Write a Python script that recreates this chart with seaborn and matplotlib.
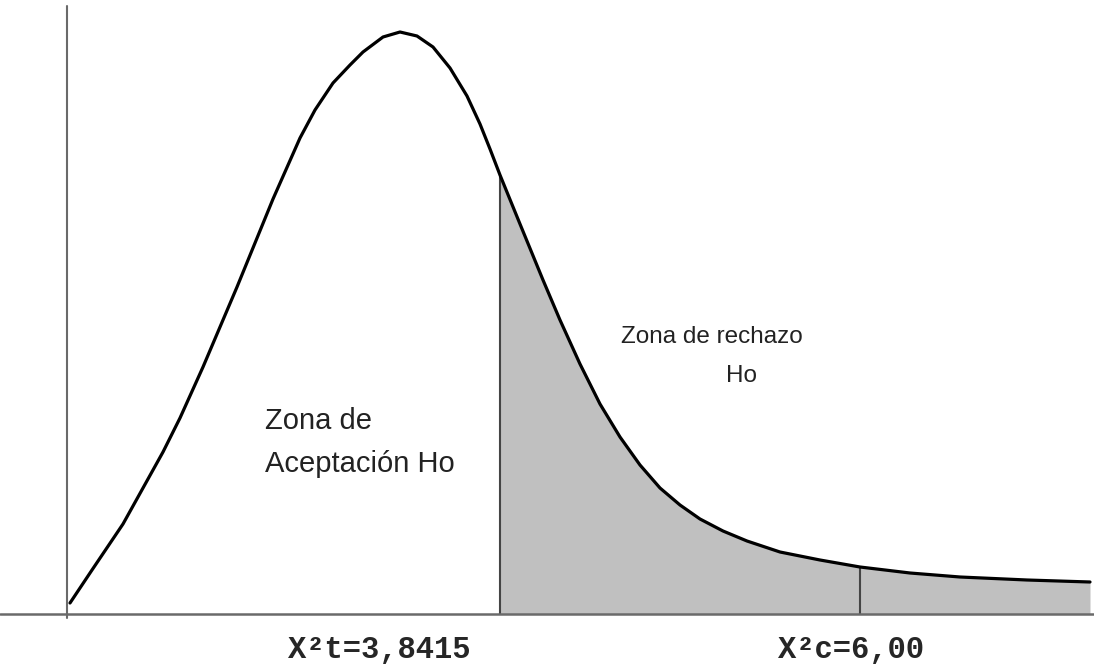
# Chi-square test: acceptance / rejection zones of Ho
# Schematic curve

# Import libraries ............................................................

import pandas as pd
import seaborn as sns
import matplotlib.pyplot as plt


# Data ........................................................................

# Curve points (schematic units, origin at the axes corner)
curve_x = [0.03, 0.25, 0.56, 0.96, 1.13, 1.36, 1.70, 2.06, 2.33, 2.48, 2.66,
           2.83, 2.96, 3.16, 3.33, 3.50, 3.66, 3.83, 4.00, 4.13, 4.23, 4.33,
           4.53, 4.76, 4.93, 5.13, 5.33, 5.53, 5.73, 5.93, 6.13, 6.33, 6.56,
           6.80, 7.13, 7.53, 7.93, 8.43, 8.93, 9.60, 10.23]
curve_y = [0.11, 0.44, 0.90, 1.62, 1.96, 2.47, 3.27, 4.15, 4.76, 5.04, 5.31,
           5.49, 5.62, 5.77, 5.82, 5.78, 5.67, 5.46, 5.18, 4.90, 4.65, 4.39,
           3.90, 3.34, 2.94, 2.50, 2.10, 1.77, 1.49, 1.26, 1.09, 0.95, 0.83,
           0.73, 0.62, 0.54, 0.47, 0.41, 0.37, 0.34, 0.32]

# Critical values (table vs calculated)
crit_x = [4.33, 7.93]
crit_y = [4.39, 0.47]
crit_labels = ["X\u00b2t=3,8415", "X\u00b2c=6,00"]

# Zone labels
zone_left = ["Zona de", "Aceptaci\u00f3n Ho"]
zone_right = ["Zona de rechazo", "Ho"]

df = pd.DataFrame({"x": curve_x, "y": curve_y})


# Plot ........................................................................

sns.set_style("white")
plt.rcParams["font.family"] = ["Liberation Sans", "DejaVu Sans"]

fig = plt.figure(figsize = (10.94, 6.65), dpi = 100)
ax = fig.add_axes([0, 0, 1, 1])
ax.set_xlim(-0.67, 10.27)
ax.set_ylim(-0.51, 6.14)
ax.axis("off")

# Rejection area
tail = df[df["x"] >= crit_x[0]]
ax.fill_between(tail["x"], 0, tail["y"], color = "#c0c0c0", linewidth = 0, zorder = 1)

# Critical lines
ax.vlines(crit_x, 0, crit_y, color = "#444444", linewidth = 1.5, zorder = 2)

# Axes lines
ax.axhline(0, color = "#6a6a6a", linewidth = 1.8, zorder = 3)
ax.plot([0, 0], [-0.04, 6.08], color = "#6a6a6a", linewidth = 1.5, zorder = 3)

# Curve
sns.lineplot(data = df, x = "x", y = "y", ax = ax, color = "black",
             linewidth = 2.3, zorder = 4, solid_joinstyle = "round",
             solid_capstyle = "round")

# Zone texts
txt = dict(color = "#222222", va = "baseline")
ax.text(1.98, 1.85, zone_left[0], fontsize = 21, **txt)
ax.text(1.98, 1.42, zone_left[1], fontsize = 21, **txt)
ax.text(6.45, 2.71, zone_right[0], fontsize = 17.5, ha = "center", **txt)
ax.text(6.74, 2.32, zone_right[1], fontsize = 17.5, ha = "center", **txt)

# Critical value labels
for xpos, lab in zip([2.21, 7.11], crit_labels):
    ax.text(xpos, -0.44, lab, fontsize = 22, fontweight = "bold",
            family = ["Liberation Mono", "DejaVu Sans Mono"], va = "baseline")

plt.savefig("out.png", dpi = 100)
